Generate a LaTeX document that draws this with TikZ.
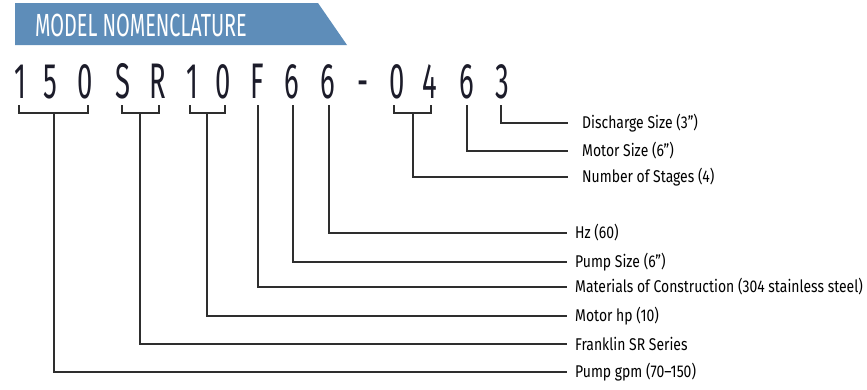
\documentclass[tikz,border=0pt]{standalone}
\usepackage{fontspec}
\setmainfont{Fira Sans}
\newfontfamily\labelfont[FakeStretch=0.82]{Fira Sans}
\newfontfamily\digitfont[FakeStretch=0.55]{Fira Sans}
\newfontfamily\titlefont[FakeStretch=0.62]{Fira Sans}
\definecolor{bannerblue}{HTML}{5E8DB9}
\definecolor{leadgray}{HTML}{2E2E2E}
\definecolor{digitink}{HTML}{1C1C2A}
\tikzset{
  digit/.style={anchor=base, inner sep=0pt, text=digitink, font=\digitfont\fontsize{50}{50}\selectfont},
  code/.style={anchor=west, inner sep=0pt, text=black, font=\labelfont\fontsize{17}{17}\selectfont},
  lead/.style={leadgray, line width=1.5pt}
}
\begin{document}
\begin{tikzpicture}[x=1pt, y=-1pt]
    \useasboundingbox (0,0) rectangle (867,389);

    % banner
    \fill[bannerblue] (15,3) -- (318,3) -- (347,45) -- (15,45) -- cycle;
    \node[anchor=west, inner sep=0pt, text=white, font=\titlefont\fontsize{32}{32}\selectfont] (title) at (35,25) {MODEL NOMENCLATURE};

    % model number
    \foreach \ch/\x [count=\i] in {1/20,5/50,0/85,S/123,R/158,1/192,0/223,F/257,6/292,6/328,-/363,0/397,4/430,6/467,3/502}
        \node[digit] (d\i) at (\x,98) {\ch};

    % brackets
    \coordinate (b1) at (54,113);
    \coordinate (b2) at (140,113);
    \coordinate (b3) at (207,113);
    \coordinate (b4) at (413,113);
    \draw[lead] (19,105) -- (19,113) -- (88,113) -- (88,105);
    \draw[lead] (122,105) -- (122,113) -- (159,113) -- (159,105);
    \draw[lead] (190,105) -- (190,113) -- (225,113) -- (225,105);
    \draw[lead] (394,105) -- (394,113) -- (431,113) -- (431,105);
    \coordinate (s8) at (258,105);
    \coordinate (s9) at (293,105);
    \coordinate (s10) at (329,105);
    \coordinate (s14) at (467,105);
    \coordinate (s15) at (501,105);

    % labels
    \node[code] (dis) at (582,123) {Discharge Size (3”)};
    \node[code] (msz) at (582,151) {Motor Size (6”)};
    \node[code] (stg) at (582,177) {Number of Stages (4)};
    \node[code] (hz) at (575,233) {Hz (60)};
    \node[code] (psz) at (575,262) {Pump Size (6”)};
    \node[code] (mat) at (575,287) {Materials of Construction (304 stainless steel)};
    \node[code] (mhp) at (575,316) {Motor hp (10)};
    \node[code] (ser) at (575,344) {Franklin SR Series};
    \node[code] (gpm) at (575,372) {Pump gpm (70–150)};

    % leads
    \draw[lead] (s15) |- ([xshift=-14pt]dis.west);
    \draw[lead] (s14) |- ([xshift=-14pt]msz.west);
    \draw[lead] (b4) |- ([xshift=-14pt]stg.west);
    \draw[lead] (s10) |- ([xshift=-8pt]hz.west);
    \draw[lead] (s9) |- ([xshift=-8pt]psz.west);
    \draw[lead] (s8) |- ([xshift=-8pt]mat.west);
    \draw[lead] (b3) |- ([xshift=-8pt]mhp.west);
    \draw[lead] (b2) |- ([xshift=-8pt]ser.west);
    \draw[lead] (b1) |- ([xshift=-8pt]gpm.west);
\end{tikzpicture}
\end{document}
